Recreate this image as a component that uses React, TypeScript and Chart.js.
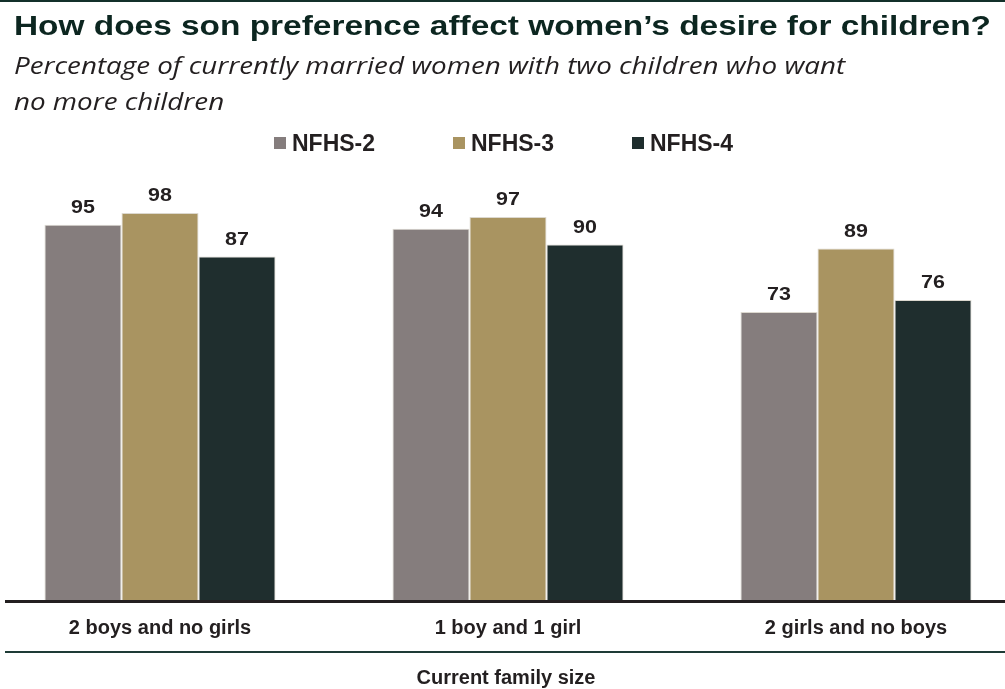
import React, { useEffect, useRef } from "react";
import { Chart, registerables } from "chart.js";

Chart.register(...registerables);

const categories = ["2 boys and no girls", "1 boy and 1 girl", "2 girls and no boys"];
const seriesNames = ["NFHS-2", "NFHS-3", "NFHS-4"];
const nfhs2 = [95, 94, 73];
const nfhs3 = [98, 97, 89];
const nfhs4 = [87, 90, 76];
const seriesColors = ["#857d7d", "#a99461", "#1f2e2e"];
const axisTitle = "Current family size";

const CANVAS_LEFT = -14;
const CANVAS_W = 1044;
const CANVAS_H = 689;
const BASE_Y = 601;
const LINE2_Y = 652;

// draw text with an optional horizontal stretch
function wideText(ctx: CanvasRenderingContext2D, text: string, x: number, y: number, sx: number) {
  ctx.save();
  ctx.translate(x, y);
  ctx.scale(sx, 1);
  ctx.fillText(text, 0, 0);
  ctx.restore();
}

const overlayPlugin = {
  id: "overlay",
  afterDatasetsDraw(chart: any) {
    const ctx = chart.ctx as CanvasRenderingContext2D;
    const xScale = chart.scales.x;
    ctx.save();
    // value labels above bars
    ctx.font = "bold 19px 'Liberation Sans', Arial, sans-serif";
    ctx.fillStyle = "#231f20";
    ctx.textAlign = "center";
    ctx.textBaseline = "middle";
    chart.data.datasets.forEach((ds: any, di: number) => {
      const meta = chart.getDatasetMeta(di);
      meta.data.forEach((bar: any, i: number) => {
        wideText(ctx, String(ds.data[i]), bar.x, bar.y - 17, 1.13);
      });
    });
    // baseline
    ctx.fillStyle = "#231f20";
    ctx.fillRect(5 - CANVAS_LEFT, BASE_Y - 1, 1000, 3);
    // category labels
    ctx.font = "bold 20px 'Liberation Sans', Arial, sans-serif";
    categories.forEach((c, i) => {
      ctx.fillText(c, xScale.getPixelForValue(i), 628);
    });
    // lower rule
    ctx.fillStyle = "#1e3b36";
    ctx.fillRect(5 - CANVAS_LEFT, LINE2_Y - 1, 1000, 2);
    // axis title
    ctx.fillStyle = "#231f20";
    ctx.fillText(axisTitle, 506 - CANVAS_LEFT, 678);
    ctx.restore();
  },
};

export default function App() {
  const canvasRef = useRef<HTMLCanvasElement | null>(null);

  useEffect(() => {
    const canvas = canvasRef.current;
    if (!canvas) return;
    const values = [nfhs2, nfhs3, nfhs4];
    const chart = new Chart(canvas, {
      type: "bar",
      data: {
        labels: categories,
        datasets: seriesNames.map((name, i) => ({
          label: name,
          data: values[i],
          backgroundColor: seriesColors[i],
          borderColor: "#dcd8cf",
          borderWidth: 1,
          borderSkipped: "bottom",
          barPercentage: 1,
          categoryPercentage: 0.664,
        })),
      },
      options: {
        responsive: false,
        animation: false,
        devicePixelRatio: 1,
        layout: { padding: { top: 205, bottom: CANVAS_H - BASE_Y, left: 0, right: 0 } },
        plugins: { legend: { display: false }, tooltip: { enabled: false } },
        scales: {
          x: { display: false },
          y: { display: false, min: 0, max: 100 },
        },
      },
      plugins: [overlayPlugin],
    });
    return () => chart.destroy();
  }, []);

  const legendX = [274, 453, 632];

  return (
    <div
      style={{
        position: "absolute",
        left: 0,
        top: 0,
        width: 1005,
        height: 689,
        overflow: "hidden",
        background: "#ffffff",
      }}
    >
      <canvas
        ref={canvasRef}
        width={CANVAS_W}
        height={CANVAS_H}
        style={{ position: "absolute", left: CANVAS_LEFT, top: 0, width: CANVAS_W, height: CANVAS_H }}
      />
      <div style={{ position: "absolute", left: 0, top: 0, width: 1005, height: 2, background: "#13302a" }} />
      <div
        style={{
          position: "absolute",
          left: 14,
          top: 7,
          font: "bold 28px 'Liberation Sans', Arial, sans-serif",
          color: "#0c2620",
          whiteSpace: "nowrap",
          lineHeight: "38px",
          transform: "scaleX(1.193)",
          transformOrigin: "0 0",
        }}
      >
        How does son preference affect women’s desire for children?
      </div>
      <div
        style={{
          position: "absolute",
          left: 14,
          top: 47,
          font: "italic 24px 'Open Sans', sans-serif",
          color: "#231f20",
          whiteSpace: "nowrap",
          lineHeight: "36px",
          transform: "scaleX(1.157)",
          transformOrigin: "0 0",
        }}
      >
        <div>Percentage of currently married women with two children who want</div>
        <div>no more children</div>
      </div>
      {seriesNames.map((name, i) => (
        <div
          key={name}
          style={{
            position: "absolute",
            left: legendX[i],
            top: 129,
            height: 28,
            display: "flex",
            alignItems: "center",
            font: "bold 23px 'Liberation Sans', Arial, sans-serif",
            color: "#231f20",
            whiteSpace: "nowrap",
          }}
        >
          <span style={{ display: "inline-block", width: 12, height: 12, background: seriesColors[i], marginRight: 6 }} />
          <span>{name}</span>
        </div>
      ))}
    </div>
  );
}
